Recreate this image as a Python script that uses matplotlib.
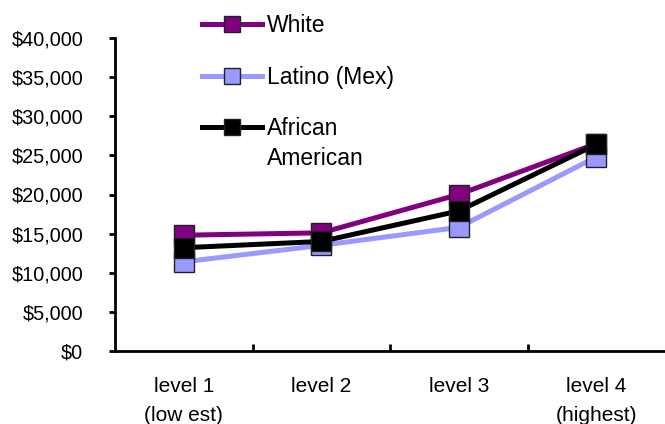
import numpy as np
import matplotlib
matplotlib.use("Agg")
import matplotlib.pyplot as plt
from matplotlib.ticker import FuncFormatter, FixedLocator

plt.rcParams['font.family'] = ['Liberation Sans', 'DejaVu Sans']

levels = ["level 1\n(low est)", "level 2", "level 3", "level 4\n(highest)"]
series_names = ["White", "Latino (Mex)", "African"]
name_second_line = "American"
white = [14800, 15100, 20000, 26500]
latino = [11400, 13500, 15800, 24800]
african_american = [13200, 14000, 17900, 26400]
colors = ["#800080", "#9999FF", "#000000"]

fig = plt.figure(figsize=(6.65, 4.24), dpi=100)
ax = fig.add_axes([115 / 665, 73 / 424, 550 / 665, 313 / 424])

x = np.arange(len(levels)) + 0.5
for vals, name, col in zip([white, latino, african_american], series_names, colors):
    ax.plot(x, vals, color=col, lw=3.6, marker='s', markersize=15,
            markerfacecolor=col, markeredgecolor='#222222', markeredgewidth=1.0,
            label=name, clip_on=False)

ax.set_xlim(0, 4)
ax.set_ylim(0, 40000)
ax.set_yticks(np.arange(0, 40001, 5000))
ax.yaxis.set_major_formatter(FuncFormatter(lambda v, p: "${:,.0f}".format(v)))
ax.tick_params(axis='y', direction='out', length=4, width=2, pad=19, labelsize=14.3)

ax.xaxis.set_major_locator(FixedLocator([1, 2, 3]))
ax.xaxis.set_minor_locator(FixedLocator(list(x)))
ax.set_xticklabels([], minor=False)
ax.set_xticklabels(levels, minor=True, fontsize=15, linespacing=1.65)
ax.tick_params(axis='x', which='major', direction='in', length=5, width=2)
ax.tick_params(axis='x', which='minor', length=0, pad=19)

for s in ['top', 'right']:
    ax.spines[s].set_visible(False)
for s in ['left', 'bottom']:
    ax.spines[s].set_linewidth(2)

leg = ax.legend(loc='upper left', bbox_to_anchor=(202 / 665, 1 - 14 / 424),
                bbox_transform=fig.transFigure, frameon=False, fontsize=16.5,
                handlelength=2.6, handletextpad=0.22, labelspacing=1.25,
                borderpad=0, borderaxespad=0, markerscale=0.8)

# second line of the last legend label, kept under "African"
ax.annotate(name_second_line, xy=(0, 0), xycoords=leg.get_texts()[2],
            xytext=(0, -5), textcoords='offset points', va='top', ha='left',
            fontsize=16.5, zorder=10, annotation_clip=False)

fig.savefig("out.png", dpi=100)
